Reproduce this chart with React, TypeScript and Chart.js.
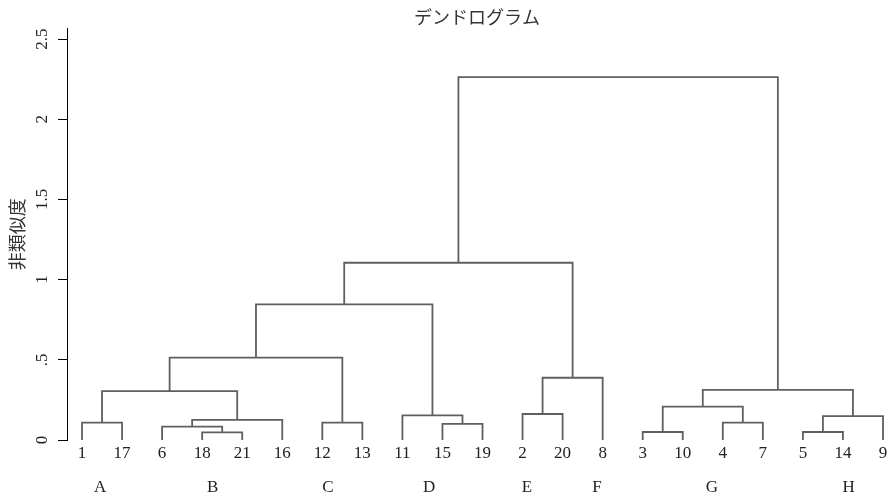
import React, { useEffect, useRef } from "react";
import { Chart, registerables } from "chart.js";

Chart.register(...registerables);

// Leaf order along the x axis (observation numbers)
const leafOrder = [1, 17, 6, 18, 21, 16, 12, 13, 11, 15, 19, 2, 20, 8, 3, 10, 4, 7, 5, 14, 9];
// hclust-style merge steps: negative = observation, positive = earlier merge step (1-based)
const mergeLeft = [-18, -3, -5, -6, -15, -1, -12, -4, 4, 3, -11, -2, 2, 6, 13, 12, 14, 17, 18, 19];
const mergeRight = [-21, -10, -14, 1, -19, -17, -13, -7, -16, -9, 5, -20, 8, 9, 10, -8, 7, 11, 16, 15];
const mergeHeight = [0.048, 0.05, 0.05, 0.084, 0.101, 0.108, 0.108, 0.108, 0.126, 0.149, 0.154, 0.162, 0.208, 0.305, 0.312, 0.388, 0.513, 0.846, 1.105, 2.263];
// Group labels under the leaves
const groupLabels = ["A", "B", "C", "D", "E", "F", "G", "H"];
const groupPositions = [1.45, 4.26, 7.14, 9.67, 12.11, 13.86, 16.73, 20.14];
// Y axis ticks
const yTicks = [0, 0.5, 1, 1.5, 2, 2.5];
const yTickLabels = ["0", ".5", "1", "1.5", "2", "2.5"];

const TITLE = "デンドログラム";
const Y_TITLE = "非類似度";

const SERIF = '"Liberation Serif", "Times New Roman", serif';
const JP = '"Noto Sans CJK JP", sans-serif';
const LINE_COLOR = "#5f5f5f";
const TEXT_COLOR = "#222";

function buildDatasets() {
  const leafX = new Map<number, number>();
  leafOrder.forEach((id, i) => leafX.set(id, i + 1));
  const nodes: { x: number; y: number }[] = [];
  const nodeOf = (ref: number) => (ref < 0 ? { x: leafX.get(-ref) as number, y: 0 } : nodes[ref - 1]);
  return mergeLeft.map((l, i) => {
    const a = nodeOf(l);
    const b = nodeOf(mergeRight[i]);
    const h = mergeHeight[i];
    nodes.push({ x: (a.x + b.x) / 2, y: h });
    return {
      data: [
        { x: a.x, y: a.y },
        { x: a.x, y: h },
        { x: b.x, y: h },
        { x: b.x, y: b.y },
      ],
      borderColor: LINE_COLOR,
      borderWidth: 1.8,
      pointRadius: 0,
      pointHoverRadius: 0,
      fill: false,
      tension: 0,
      clip: false as any,
    };
  });
}

const yTickLabelPlugin = {
  id: "yTickLabels",
  afterDraw(chart: any) {
    const { ctx } = chart;
    const ys = chart.scales.y;
    ctx.save();
    ctx.fillStyle = TEXT_COLOR;
    ctx.font = `17px ${SERIF}`;
    ctx.textAlign = "center";
    ctx.textBaseline = "middle";
    yTicks.forEach((v, i) => {
      const py = ys.getPixelForValue(v);
      ctx.save();
      ctx.translate(ys.right - 24, py);
      ctx.rotate(-Math.PI / 2);
      ctx.fillText(yTickLabels[i], 0, 0);
      ctx.restore();
    });
    ctx.restore();
  },
};

export default function App() {
  const ref = useRef<HTMLCanvasElement | null>(null);
  useEffect(() => {
    if (!ref.current) return;
    const chart = new Chart(ref.current, {
      type: "line",
      data: { datasets: buildDatasets() as any },
      options: {
        animation: false,
        responsive: true,
        maintainAspectRatio: false,
        layout: { padding: 0 },
        plugins: {
          legend: { display: false },
          tooltip: { enabled: false },
          title: {
            display: true,
            text: TITLE,
            fullSize: false,
            color: "#333",
            font: { family: JP, size: 18, weight: "normal" as any },
            padding: { top: 6, bottom: 1 },
          },
        },
        scales: {
          x: {
            type: "linear",
            position: "bottom",
            weight: 0,
            min: 0.625,
            max: 21.1,
            grid: { display: false, drawTicks: false },
            border: { display: false },
            afterBuildTicks: (s: any) => {
              s.ticks = leafOrder.map((_, i) => ({ value: i + 1 }));
            },
            ticks: {
              autoSkip: false,
              minRotation: 0,
              maxRotation: 0,
              padding: 3,
              color: TEXT_COLOR,
              font: { family: SERIF, size: 17 },
              callback: (v: any) => String(leafOrder[Math.round(Number(v)) - 1]),
            },
            afterFit: (s: any) => {
              s.height = 30;
              s.paddingLeft = 0;
              s.paddingRight = 0;
            },
          },
          x2: {
            type: "linear",
            position: "bottom",
            weight: 1,
            min: 0.625,
            max: 21.1,
            grid: { display: false, drawTicks: false },
            border: { display: false },
            afterBuildTicks: (s: any) => {
              s.ticks = groupPositions.map((p) => ({ value: p }));
            },
            ticks: {
              autoSkip: false,
              minRotation: 0,
              maxRotation: 0,
              padding: 7,
              color: TEXT_COLOR,
              font: { family: SERIF, size: 17 },
              callback: (v: any) => {
                const idx = groupPositions.findIndex((p) => Math.abs(p - Number(v)) < 1e-6);
                return idx >= 0 ? groupLabels[idx] : "";
              },
            },
            afterFit: (s: any) => {
              s.height = 28;
              s.paddingLeft = 0;
              s.paddingRight = 0;
            },
          },
          y: {
            type: "linear",
            position: "left",
            min: 0,
            max: 2.565,
            afterBuildTicks: (s: any) => {
              s.ticks = yTicks.map((v) => ({ value: v }));
            },
            ticks: { display: false },
            grid: {
              display: true,
              drawOnChartArea: false,
              drawTicks: true,
              tickLength: 9,
              color: "#000",
              lineWidth: 1,
            },
            border: { display: true, color: "#000", width: 1 },
            title: {
              display: true,
              text: Y_TITLE,
              color: "#333",
              font: { family: JP, size: 18 },
              padding: { top: 6, bottom: 0 },
            },
            afterFit: (s: any) => {
              s.width = 67;
              s.paddingTop = 0;
              s.paddingBottom = 0;
            },
          },
        },
      } as any,
      plugins: [yTickLabelPlugin],
    });
    return () => chart.destroy();
  }, []);

  return (
    <div style={{ position: "absolute", left: 0, top: 0, width: 887, height: 498, background: "#fff" }}>
      <canvas ref={ref} />
    </div>
  );
}
